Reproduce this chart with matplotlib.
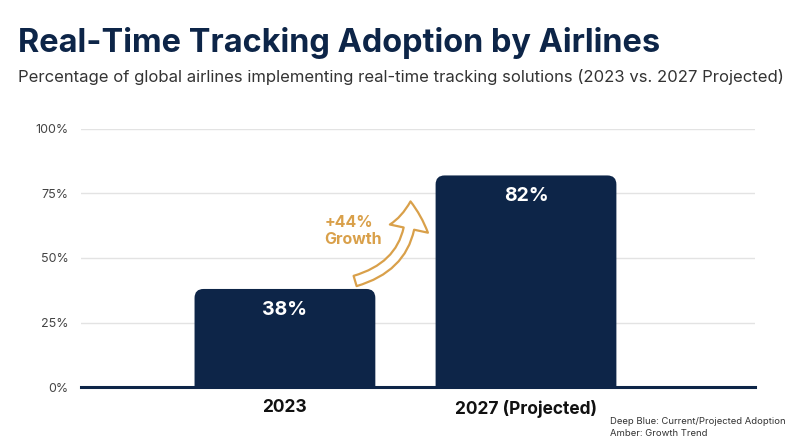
import matplotlib.pyplot as plt
from matplotlib.patches import FancyBboxPatch, FancyArrowPatch

plt.rcParams['font.family'] = ['Inter', 'DejaVu Sans']

categories = ['2023', '2027 (Projected)']
adoption = [38, 82]
bar_labels = ['38%', '82%']
y_ticks = [0, 25, 50, 75, 100]
y_tick_labels = ['0%', '25%', '50%', '75%', '100%']
growth_label = '+44%\nGrowth'
legend_lines = ['Deep Blue: Current/Projected Adoption', 'Amber: Growth Trend']

navy = '#0d2548'
amber = '#d9a04a'

fig = plt.figure(figsize=(8, 4.47), dpi=100)
ax = fig.add_axes([81 / 800, 1 - 387 / 447, 674 / 800, 258 / 447])

x = list(range(len(categories)))
bars = ax.bar(x, adoption, width=0.75, color=navy)

ax.set_xlim(-0.846, 1.95)
ax.set_ylim(0, 100)

# swap plain bars for rounded ones
px_x = 1 / 241
px_y = 100 / 258
for b in bars:
    b.set_visible(False)
    r = FancyBboxPatch((b.get_x(), -5), b.get_width(), b.get_height() + 5,
                       boxstyle='round,pad=0,rounding_size=%f' % (9 * px_x),
                       mutation_aspect=px_y / px_x,
                       facecolor=navy, edgecolor='none', zorder=2)
    ax.add_patch(r)

for xi, v, lab in zip(x, adoption, bar_labels):
    ax.text(xi, v - 8, lab, ha='center', va='center', color='white',
            fontsize=14, fontweight='bold', zorder=3)

ax.set_yticks(y_ticks)
ax.set_yticklabels(y_tick_labels, fontsize=9, color='#444444')
ax.set_xticks(x)
ax.set_xticklabels(categories, fontsize=12.5, fontweight='bold', color='#111111')
ax.tick_params(axis='both', length=0)
ax.tick_params(axis='y', pad=9)
ax.tick_params(axis='x', pad=9)
ax.grid(axis='y', color='#e3e3e3', linewidth=1)
ax.set_axisbelow(True)
for s in ax.spines.values():
    s.set_visible(False)
ax.axhline(0, color=navy, linewidth=2.2, clip_on=False, zorder=4)

# growth arrow
arrow = FancyArrowPatch((0.28, 40.8), (0.52, 73),
                        connectionstyle='arc3,rad=0.42',
                        arrowstyle='simple,head_width=2.0,head_length=1.4,tail_width=0.55',
                        mutation_scale=14, facecolor='white', edgecolor=amber,
                        linewidth=1.6, zorder=3)
ax.add_patch(arrow)
ax.text(0.163, 60.5, growth_label, ha='left', va='center', color=amber,
        fontsize=11.5, fontweight='bold', linespacing=1.1)

fig.text(18 / 800, 1 - 43 / 447, 'Real-Time Tracking Adoption by Airlines',
         fontsize=23.4, fontweight='bold', color=navy, va='center', ha='left')
fig.text(18 / 800, 1 - 77 / 447,
         'Percentage of global airlines implementing real-time tracking solutions (2023 vs. 2027 Projected)',
         fontsize=12, color='#333333', va='center', ha='left')

fig.text(610 / 800, 1 - 421 / 447, legend_lines[0], fontsize=6.8, color='#333333', va='center')
fig.text(610 / 800, 1 - 433 / 447, legend_lines[1], fontsize=6.8, color='#333333', va='center')

fig.savefig('out.png', dpi=100, facecolor='white')
